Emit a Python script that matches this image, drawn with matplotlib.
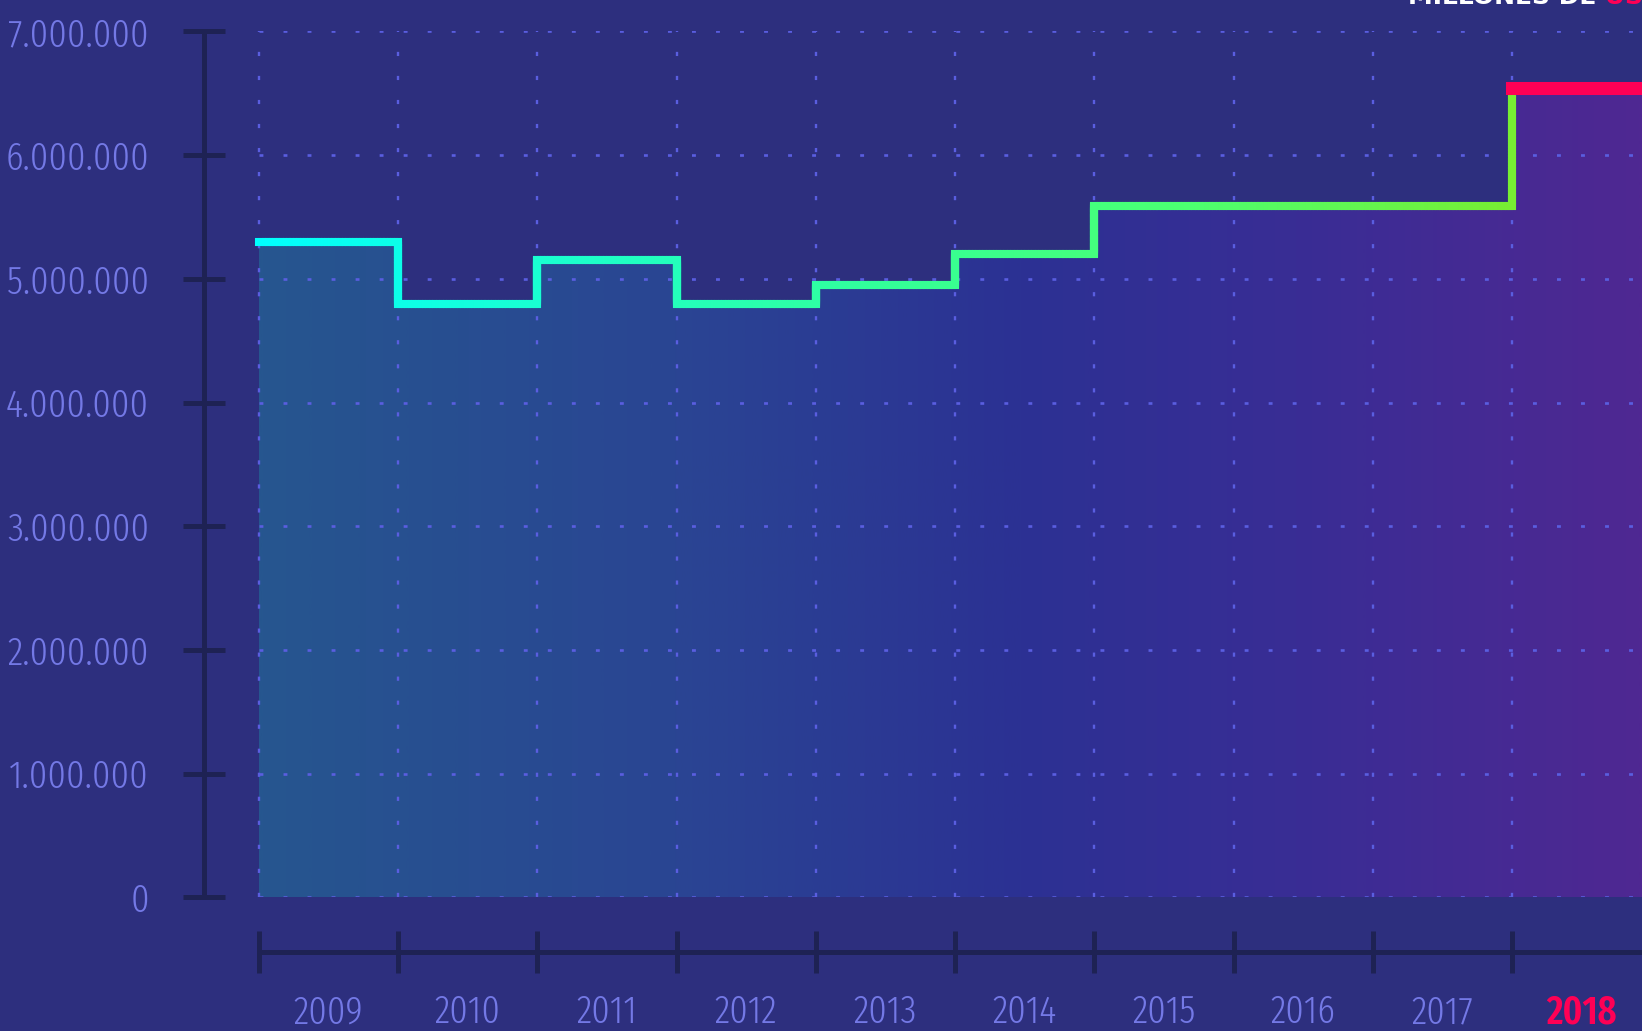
import os
import numpy as np
import matplotlib
matplotlib.use('Agg')
import matplotlib.pyplot as plt
from matplotlib.collections import LineCollection
from matplotlib.colors import LinearSegmentedColormap
from matplotlib import font_manager as fm

# ---------------- data ----------------
years = [2009, 2010, 2011, 2012, 2013, 2014, 2015, 2016, 2017, 2018]
values = [5300000, 4800000, 5150000, 4800000, 4950000, 5200000,
          5590000, 5590000, 5590000, 6540000]
ytick_values = [0, 1000000, 2000000, 3000000, 4000000, 5000000, 6000000, 7000000]
ytick_labels = ['0', '1.000.000', '2.000.000', '3.000.000', '4.000.000',
                '5.000.000', '6.000.000', '7.000.000']
year_labels = ['2009', '2010', '2011', '2012', '2013', '2014', '2015',
               '2016', '2017', '2018']
title_main = 'MILLONES DE'
title_unit = ' USD'

# ---------------- style ----------------
BG = '#2D2F7E'
AXIS = '#1E2254'
GRID = '#5A5EE0'
LABEL = '#7479E6'
RED = '#FF0055'


def find_font(patterns, exclude):
    entries = []
    for f in fm.fontManager.ttflist:
        key = (os.path.basename(f.fname) + ' ' + f.name).lower()
        key = key.replace('-', '').replace('_', '').replace(' ', '')
        entries.append((key, f))
    for pat in patterns:
        for key, f in sorted(entries, key=lambda e: e[0]):
            if pat in key and not any(x in key for x in exclude):
                return fm.FontProperties(fname=f.fname)
    return None


light_fp = find_font(
    ['extracondensedlight', 'condensedlight', 'condlight', 'narrow',
     'extracondensed', 'semicondensed', 'condensed'],
    ['italic', 'bold', 'black', 'thin', 'medium', 'extralight', 'oblique'])
bold_fp = find_font(
    ['extracondensedsemibold', 'extracondensedbold', 'condensedsemibold',
     'condensedbold', 'condbold', 'narrowbold'],
    ['italic', 'extrabold', 'oblique'])
if light_fp is None:
    light_fp = fm.FontProperties(family='DejaVu Sans')
if bold_fp is None:
    bold_fp = fm.FontProperties(family=light_fp.get_family(), weight='bold')
    try:
        bold_fp = fm.FontProperties(fname=light_fp.get_file(), weight='bold')
    except Exception:
        pass

plt.rcParams['lines.scale_dashes'] = False

W, H = 1642, 1031
fig = plt.figure(figsize=(W / 100, H / 100), dpi=100, facecolor=BG)

# choose label size so that "7.000.000" is about 140 px wide
renderer = fig.canvas.get_renderer()
probe = fig.text(0, 0, ytick_labels[-1], fontproperties=light_fp)
probe.set_fontsize(32)
pw = probe.get_window_extent(renderer).width
probe.remove()
LSIZE = min(34.0, 32.0 * 140.0 / max(pw, 1))

x_left_px, x0_px, step_px = 204, 258.66, 139.28
y0_px, ytop_px = 897.4, 31.4
xmin = years[0] - (x0_px - x_left_px) / step_px
xmax = years[0] + (W - x0_px) / step_px

ax = fig.add_axes([x_left_px / W, 1 - y0_px / H, 1 - x_left_px / W, (y0_px - ytop_px) / H])
ax.set_facecolor('none')

# ---- gradient fill under the step line ----
xs = years + [years[-1] + 1]
ys = values + [values[-1]]
poly = ax.fill_between(xs, ys, step='post', color='none', lw=0)
fill_cmap = LinearSegmentedColormap.from_list(
    'fill', [(0.0, '#26568F'), (0.3, '#2A4593'), (0.55, '#2C3193'),
             (0.75, '#392D95'), (1.0, '#4F2892')])
grad = np.linspace(0, 1, 512).reshape(1, -1)
im = ax.imshow(grad, extent=[years[0], xmax, 0, 7e6], aspect='auto',
               cmap=fill_cmap, zorder=1, interpolation='bilinear')
im.set_clip_path(poly.get_paths()[0], ax.transData)

ax.set_xlim(xmin, xmax)
ax.set_ylim(0, 7e6)

# ---- dotted grid ----
ax.vlines(years, 0, 7e6, colors=GRID, linewidths=1.7,
          linestyles=(0, (3, 14.3)), zorder=2)
ax.hlines(ytick_values, years[0], xmax, colors=GRID, linewidths=1.9,
          linestyles=(0, (2.8, 14.5)), zorder=2)

# ---- gradient step line ----
pts = []
for i in range(len(years) - 1):
    pts.append((years[i], values[i]))
    pts.append((years[i + 1], values[i]))
pts.append((years[-1], values[-1]))
segs, cvals = [], []
for (xa, ya), (xb, yb) in zip(pts[:-1], pts[1:]):
    n = 40
    tx = np.linspace(xa, xb, n + 1)
    ty = np.linspace(ya, yb, n + 1)
    for k in range(n):
        segs.append([(tx[k], ty[k]), (tx[k + 1], ty[k + 1])])
        cvals.append(((tx[k] + tx[k + 1]) / 2 - years[0]) / (years[-1] - years[0]))
line_cmap = LinearSegmentedColormap.from_list(
    'line', [(0.0, '#00FFFF'), (0.25, '#1CFFCC'), (0.5, '#33FF99'),
             (0.75, '#4CFF70'), (1.0, '#77EE33')])
lc = LineCollection(segs, colors=line_cmap(np.array(cvals)), linewidths=5.8,
                    capstyle='projecting', zorder=3)
ax.add_collection(lc)
ax.plot([years[-1], years[-1] + 1], [values[-1], values[-1]], color=RED,
        lw=9.4, solid_capstyle='projecting', zorder=4)

# ---- y axis ----
for s in ['top', 'right', 'bottom']:
    ax.spines[s].set_visible(False)
ax.spines['left'].set_color(AXIS)
ax.spines['left'].set_linewidth(3.6)
ax.spines['left'].set_bounds(0, 7e6)
ax.spines['left'].set_capstyle('round')
ax.set_yticks(ytick_values, ytick_labels)
ax.tick_params(axis='y', direction='inout', length=30.2, width=3.6,
               color=AXIS, labelcolor=LABEL, pad=24.5)
ax.tick_params(axis='x', bottom=False, labelbottom=False)
for lab in ax.get_yticklabels():
    lab.set_fontproperties(light_fp)
    lab.set_fontsize(LSIZE)

# ---- bottom x axis ----
ax2 = fig.add_axes([x_left_px / W, 1 - 952 / H, 1 - x_left_px / W, 0.0001])
ax2.set_facecolor('none')
ax2.set_xlim(xmin, xmax)
for s in ['top', 'right', 'left']:
    ax2.spines[s].set_visible(False)
ax2.spines['bottom'].set_color(AXIS)
ax2.spines['bottom'].set_linewidth(3.6)
ax2.spines['bottom'].set_bounds(years[0], xmax)
ax2.set_yticks([])
ax2.set_xticks(years)
ax2.set_xticklabels([''] * len(years))
ax2.set_xticks([y + 0.5 for y in years], year_labels, minor=True)
ax2.tick_params(axis='x', which='major', direction='inout', length=30.2,
                width=3.6, color=AXIS)
ax2.tick_params(axis='x', which='minor', length=0,
                labelcolor=LABEL, pad=30)
for lab in ax2.get_xticklabels(minor=True):
    lab.set_fontproperties(light_fp)
    lab.set_fontsize(LSIZE)
last = ax2.get_xticklabels(minor=True)[-1]
last.set_fontproperties(bold_fp)
last.set_fontsize(LSIZE)
last.set_color(RED)

# ---- partially visible unit title ----
t1 = fig.text(1408 / W, 1 - 4 / H, title_main, color='white',
              fontsize=18, fontweight='bold', va='baseline', ha='left')
ax.annotate(title_unit, xy=(1, 0), xycoords=t1, va='bottom', ha='left',
            color=RED, fontsize=18, fontweight='bold', annotation_clip=False)

fig.savefig('out.png', dpi=100, facecolor=BG)
